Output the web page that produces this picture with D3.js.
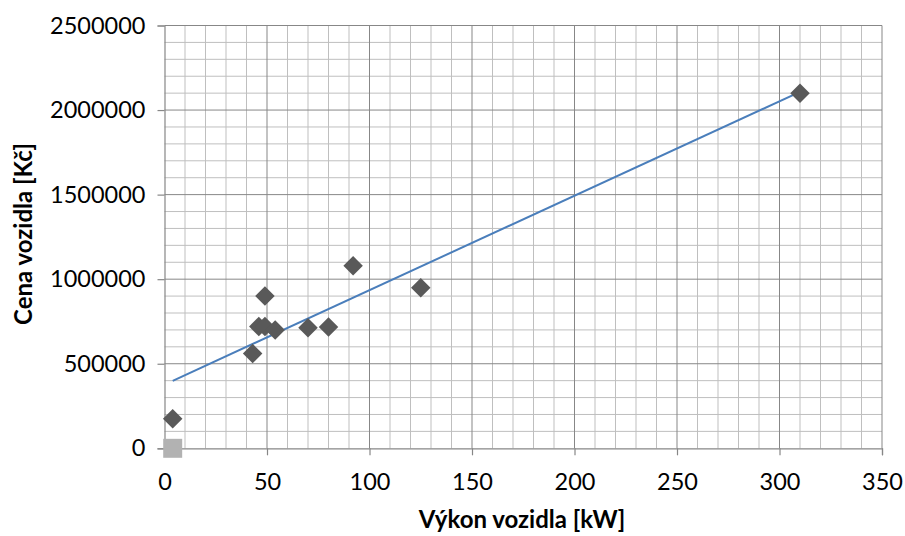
<!DOCTYPE html>
<html>
<head>
<meta charset="utf-8">
<script src="https://cdn.jsdelivr.net/npm/d3@7"></script>
<style>
  body { margin: 0; background: #fff; }
  text { font-family: Lato, "Open Sans", sans-serif; }
</style>
</head>
<body>
<svg id="chart" width="905" height="536"></svg>
<script>
// vykon [kW] a cena [Kc]
var vykon = [4, 49, 46, 49, 54, 43, 70, 80, 92, 125, 310];
var cena = [175000, 900000, 720000, 720000, 700000, 560000, 713000, 717000, 1080000, 950000, 2100000];

// druha rada (sedy ctverec)
var vykon2 = [4];
var cena2 = [0];

// trend (linearni), koncove body
var trendX = [4, 310];
var trendY = [399000, 2108000];

var xTicks = [0, 50, 100, 150, 200, 250, 300, 350];
var yTicks = [0, 500000, 1000000, 1500000, 2000000, 2500000];

var svg = d3.select('#chart');

var xScale = d3.scaleLinear()
  .domain([0, 350])
  .range([164.5, 882]);

var yScale = d3.scaleLinear()
  .domain([0, 2500000])
  .range([448.3, 25.5]);

// mrizka - vedlejsi
var minorX = d3.range(10, 350, 10).filter(d => d % 50 != 0);
var minorY = d3.range(100000, 2500000, 100000).filter(d => d % 500000 != 0);

svg.append('g').selectAll('line')
  .data(minorX)
  .join('line')
  .attr('x1', d => xScale(d)).attr('x2', d => xScale(d))
  .attr('y1', yScale(0)).attr('y2', yScale(2500000))
  .attr('stroke', '#bfbfbf')
  .attr('stroke-width', 1);

svg.append('g').selectAll('line')
  .data(minorY)
  .join('line')
  .attr('x1', xScale(0)).attr('x2', xScale(350))
  .attr('y1', d => yScale(d)).attr('y2', d => yScale(d))
  .attr('stroke', '#bfbfbf')
  .attr('stroke-width', 1);

// mrizka - hlavni
svg.append('g').selectAll('line')
  .data(xTicks.slice(1))
  .join('line')
  .attr('x1', d => xScale(d)).attr('x2', d => xScale(d))
  .attr('y1', yScale(0)).attr('y2', yScale(2500000))
  .attr('stroke', '#878787')
  .attr('stroke-width', 1);

svg.append('g').selectAll('line')
  .data(yTicks.slice(1))
  .join('line')
  .attr('x1', xScale(0)).attr('x2', xScale(350))
  .attr('y1', d => yScale(d)).attr('y2', d => yScale(d))
  .attr('stroke', '#878787')
  .attr('stroke-width', 1);

// osy
var xAxis = svg.append('g')
  .attr('transform', 'translate(0,' + yScale(0) + ')')
  .call(d3.axisBottom(xScale).tickValues(xTicks).tickSize(7).tickPadding(18).tickFormat(d3.format('d')));

var yAxis = svg.append('g')
  .attr('transform', 'translate(' + xScale(0) + ',0)')
  .call(d3.axisLeft(yScale).tickValues(yTicks).tickSize(7).tickPadding(12).tickFormat(d3.format('d')));

[xAxis, yAxis].forEach(a => {
  a.select('.domain').attr('stroke', '#878787').attr('stroke-width', 1.2);
  a.selectAll('.tick line').attr('stroke', '#878787').attr('stroke-width', 1.2);
  a.selectAll('.tick text')
    .attr('fill', '#000')
    .attr('font-size', 23.5)
    .attr('font-family', 'Lato, sans-serif');
});

// trend
svg.append('path')
  .datum(trendX.map((d, i) => [d, trendY[i]]))
  .attr('fill', 'none')
  .attr('stroke', '#4a7ebb')
  .attr('stroke-width', 2)
  .attr('d', d3.line()
    .x(d => xScale(d[0]))
    .y(d => yScale(d[1])));

// body
var diamond = d3.symbol().type(d3.symbolSquare).size(190);

svg.append('g').selectAll('path')
  .data(vykon.map((d, i) => [d, cena[i]]))
  .join('path')
  .attr('d', diamond)
  .attr('fill', '#595959')
  .attr('transform', d => 'translate(' + xScale(d[0]) + ',' + yScale(d[1]) + ') rotate(45)');

svg.append('g').selectAll('path')
  .data(vykon2.map((d, i) => [d, cena2[i]]))
  .join('path')
  .attr('d', d3.symbol().type(d3.symbolSquare).size(360))
  .attr('fill', '#b2b2b2')
  .attr('transform', d => 'translate(' + xScale(d[0]) + ',' + yScale(d[1]) + ')');

// popisky os
svg.append('text')
  .attr('x', 522)
  .attr('y', 528)
  .attr('text-anchor', 'middle')
  .attr('font-size', 24)
  .attr('font-weight', 'bold')
  .text('Výkon vozidla [kW]');

svg.append('text')
  .attr('transform', 'translate(32,' + 234 + ') rotate(-90)')
  .attr('text-anchor', 'middle')
  .attr('font-size', 24)
  .attr('font-weight', 'bold')
  .text('Cena vozidla [Kč]');
</script>
</body>
</html>
